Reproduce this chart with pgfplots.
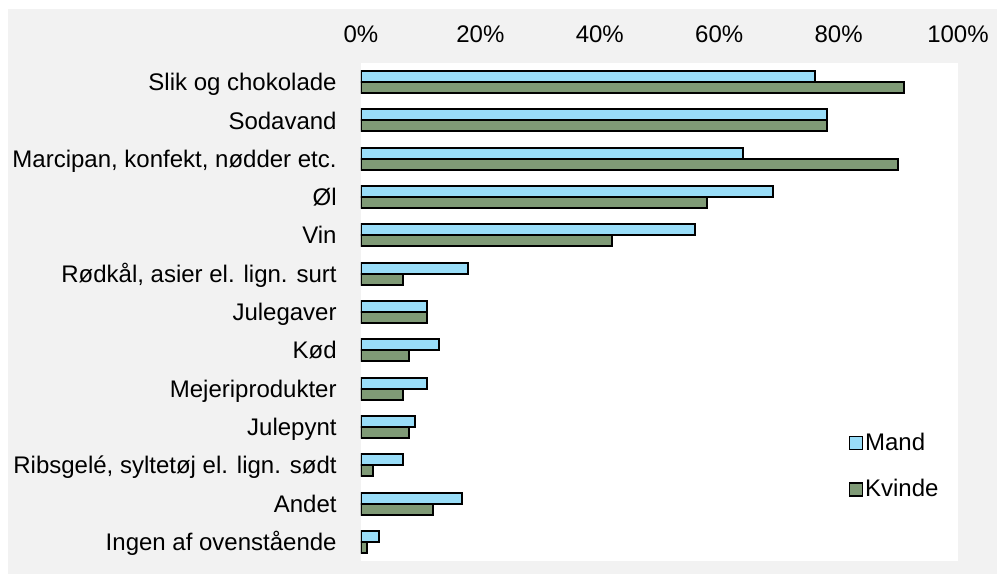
\documentclass[border=0pt]{standalone}
\usepackage{pgfplots}
\pgfplotsset{compat=1.18}
\usepackage{fontspec}
\setmainfont{Liberation Sans}
\definecolor{mand}{RGB}{153,221,248}
\definecolor{kvinde}{RGB}{127,154,118}
\definecolor{bg}{RGB}{242,242,242}
\begin{document}
\begin{tikzpicture}[font=\fontsize{12}{14}\selectfont]
\useasboundingbox (0,0) rectangle (498.5pt,287.5pt);
\fill[white] (0,0) rectangle (498.5pt,287.5pt);
\fill[bg] (4pt,0.5pt) rectangle (498.5pt,283pt);
\begin{axis}[
  at={(180.5pt,7pt)}, anchor=south west,
  scale only axis, width=298.5pt, height=249pt,
  xmin=0, xmax=100, ymin=-0.5, ymax=12.5,
  xbar, bar width=5.5pt,
  axis line style={draw=none},
  major tick length=0pt,
  axis background/.style={fill=white},
  xtick={0,20,40,60,80,100},
  xticklabels={0\%,20\%,40\%,60\%,80\%,100\%},
  xticklabel pos=upper,
  xticklabel style={anchor=base, yshift=10.2pt},
  ytick={0,1,2,3,4,5,6,7,8,9,10,11,12},
  yticklabels={Ingen af ovenstående, Andet, {Ribsgelé, syltetøj el. lign. sødt}, Julepynt, Mejeriprodukter, Kød, Julegaver, {Rødkål, asier el. lign. surt}, Vin, Øl, {Marcipan, konfekt, nødder etc.}, Sodavand, Slik og chokolade},
  yticklabel style={anchor=base east, inner sep=0pt, xshift=-12pt, yshift=-4.3pt},
  legend style={at={(0.816,0.19)}, anchor=west, draw=none, fill=none, inner sep=0pt,
    legend cell align=left, row sep=11pt, nodes={inner sep=1pt}},
  legend image code/.code={\draw[#1, line width=0.8pt] (0pt,-3.25pt) rectangle (6.5pt,3.25pt);},
]
\addplot[fill=mand, draw=black, line width=1pt, bar shift=2.75pt] coordinates {
(3,0) (17,1) (7,2) (9,3) (11,4) (13,5) (11,6) (18,7) (56,8) (69,9) (64,10) (78,11) (76,12)};
\addplot[fill=kvinde, draw=black, line width=1pt, bar shift=-2.75pt] coordinates {
(1,0) (12,1) (2,2) (8,3) (7,4) (8,5) (11,6) (7,7) (42,8) (58,9) (90,10) (78,11) (91,12)};
\legend{Mand,Kvinde}
\end{axis}
\end{tikzpicture}
\end{document}
